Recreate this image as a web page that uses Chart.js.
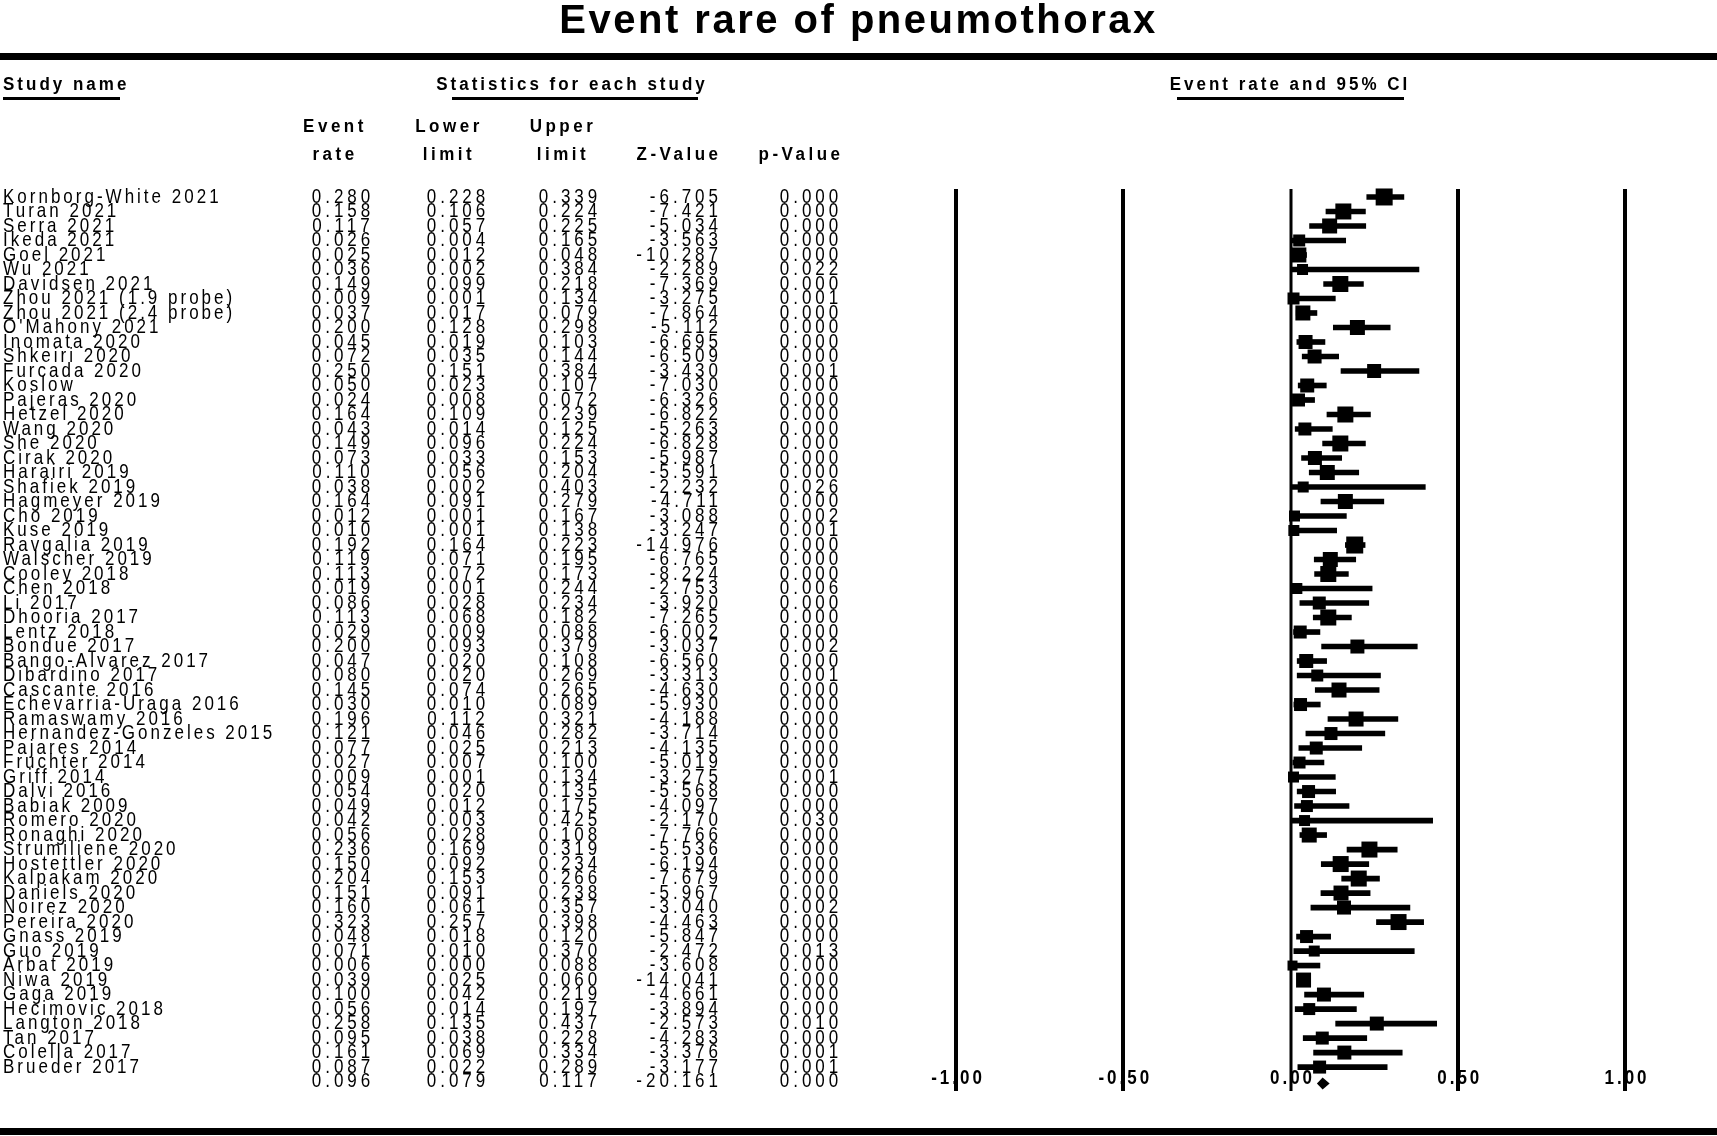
<!DOCTYPE html>
<html>
<head>
<meta charset="utf-8">
<script src="https://cdn.jsdelivr.net/npm/chart.js@4.4.0/dist/chart.umd.min.js"></script>
<style>
  html, body { margin: 0; padding: 0; background: #fff; }
  canvas { display: block; }
</style>
</head>
<body>
<canvas id="forest" width="1717" height="1136"></canvas>
<script>
const studies = [
    'Kornborg-White 2021', 'Turan 2021', 'Serra 2021', 'Ikeda 2021', 'Goel 2021', 'Wu 2021',
    'Davidsen 2021', 'Zhou 2021 (1.9 probe)', 'Zhou 2021 (2.4 probe)', "O'Mahony 2021", 'Inomata 2020',
    'Shkeiri 2020', 'Furcada 2020', 'Koslow', 'Pajeras 2020', 'Hetzel 2020', 'Wang 2020', 'She 2020',
    'Cirak 2020', 'Harairi 2019', 'Shafiek 2019', 'Hagmeyer 2019', 'Cho 2019', 'Kuse 2019',
    'Ravgalia 2019', 'Walscher 2019', 'Cooley 2018', 'Chen 2018', 'Li 2017', 'Dhooria 2017',
    'Lentz 2018', 'Bondue 2017', 'Bango-Alvarez 2017', 'Dibardino 2017', 'Cascante 2016',
    'Echevarria-Uraga 2016', 'Ramaswamy 2016', 'Hernandez-Gonzeles 2015', 'Pajares 2014',
    'Fruchter 2014', 'Griff 2014', 'Dalvi 2016', 'Babiak 2009', 'Romero 2020', 'Ronaghi 2020',
    'Strumiliene 2020', 'Hostettler 2020', 'Kalpakam 2020', 'Daniels 2020', 'Noirez 2020',
    'Pereira 2020', 'Gnass 2019', 'Guo 2019', 'Arbat 2019', 'Niwa 2019', 'Gaga 2019',
    'Hecimovic 2018', 'Langton 2018', 'Tan 2017', 'Colella 2017', 'Brueder 2017'
];
const eventRate = [
    0.280, 0.158, 0.117, 0.026, 0.025, 0.036, 0.149, 0.009, 0.037, 0.200, 0.045,
    0.072, 0.250, 0.050, 0.024, 0.164, 0.043, 0.149, 0.073, 0.110, 0.038, 0.164,
    0.012, 0.010, 0.192, 0.119, 0.113, 0.019, 0.086, 0.113, 0.029, 0.200, 0.047,
    0.080, 0.145, 0.030, 0.196, 0.121, 0.077, 0.027, 0.009, 0.054, 0.049, 0.042,
    0.056, 0.236, 0.150, 0.204, 0.151, 0.160, 0.323, 0.048, 0.071, 0.006, 0.039,
    0.100, 0.056, 0.258, 0.095, 0.161, 0.087
];
const lowerLimit = [
    0.228, 0.106, 0.057, 0.004, 0.012, 0.002, 0.099, 0.001, 0.017, 0.128, 0.019,
    0.035, 0.151, 0.023, 0.008, 0.109, 0.014, 0.096, 0.033, 0.056, 0.002, 0.091,
    0.001, 0.001, 0.164, 0.071, 0.072, 0.001, 0.028, 0.068, 0.009, 0.093, 0.020,
    0.020, 0.074, 0.010, 0.112, 0.046, 0.025, 0.007, 0.001, 0.020, 0.012, 0.003,
    0.028, 0.169, 0.092, 0.153, 0.091, 0.061, 0.257, 0.018, 0.010, 0.000, 0.025,
    0.042, 0.014, 0.135, 0.038, 0.069, 0.022
];
const upperLimit = [
    0.339, 0.224, 0.225, 0.165, 0.048, 0.384, 0.218, 0.134, 0.079, 0.298, 0.103,
    0.144, 0.384, 0.107, 0.072, 0.239, 0.125, 0.224, 0.153, 0.204, 0.403, 0.279,
    0.167, 0.138, 0.223, 0.195, 0.173, 0.244, 0.234, 0.182, 0.088, 0.379, 0.108,
    0.269, 0.265, 0.089, 0.321, 0.282, 0.213, 0.100, 0.134, 0.135, 0.175, 0.425,
    0.108, 0.319, 0.234, 0.266, 0.238, 0.357, 0.398, 0.120, 0.370, 0.088, 0.060,
    0.219, 0.197, 0.437, 0.228, 0.334, 0.289
];
const zValue = [
    -6.705, -7.421, -5.034, -3.563, -10.287, -2.289, -7.369, -3.275, -7.864, -5.112, -6.695,
    -6.509, -3.430, -7.030, -6.326, -6.822, -5.263, -6.828, -5.987, -5.591, -2.232, -4.711,
    -3.088, -3.247, -14.976, -6.765, -8.224, -2.753, -3.920, -7.265, -6.002, -3.037, -6.560,
    -3.313, -4.630, -5.930, -4.188, -3.714, -4.135, -5.019, -3.275, -5.568, -4.097, -2.170,
    -7.766, -5.536, -6.194, -7.679, -5.967, -3.040, -4.463, -5.847, -2.472, -3.608, -14.041,
    -4.661, -3.894, -2.573, -4.283, -3.376, -3.177
];
const pValue = [
    0.000, 0.000, 0.000, 0.000, 0.000, 0.022, 0.000, 0.001, 0.000, 0.000, 0.000,
    0.000, 0.001, 0.000, 0.000, 0.000, 0.000, 0.000, 0.000, 0.000, 0.026, 0.000,
    0.002, 0.001, 0.000, 0.000, 0.000, 0.006, 0.000, 0.000, 0.000, 0.002, 0.000,
    0.001, 0.000, 0.000, 0.000, 0.000, 0.000, 0.000, 0.001, 0.000, 0.000, 0.030,
    0.000, 0.000, 0.000, 0.000, 0.000, 0.002, 0.000, 0.000, 0.013, 0.000, 0.000,
    0.000, 0.000, 0.010, 0.000, 0.001, 0.001
];
const pooledRate = [0.096];
const pooledLower = [0.079];
const pooledUpper = [0.117];
const pooledZ = [-20.161];
const pooledP = [0.000];
const xTicks = [-1, -0.5, 0, 0.5, 1];

// box side in px (weight of each study)
const boxSide = [
    17, 16, 15, 12, 15, 11, 16, 12, 15, 15, 14,
    14, 14, 14, 13, 16, 13, 16, 14, 15, 11, 15,
    11, 11, 17, 15, 16, 11, 13, 16, 13, 14, 14,
    12, 15, 13, 15, 13, 13, 12, 11, 13, 12, 11,
    15, 16, 16, 16, 15, 14, 16, 13, 11, 10, 15,
    14, 12, 14, 13, 14, 13
];

const FONT = '"Liberation Sans", Arial, sans-serif';

function drawText(ctx, s, x, y, font, spacing, align) {
    ctx.font = font;
    ctx.letterSpacing = spacing + 'px';
    ctx.textAlign = align;
    ctx.fillText(s, x, y);
}

// same as drawText but stretched vertically, like the tall glyphs in the table
function drawTall(ctx, s, x, y, font, spacing, align, sy) {
    ctx.save();
    ctx.translate(0, y);
    ctx.scale(1, sy);
    drawText(ctx, s, x, 0, font, spacing, align);
    ctx.restore();
}

const forestPlugin = {
    id: 'forest',
    beforeDatasetsDraw(chart) {
        const ctx = chart.ctx;
        const xs = chart.scales.x;
        const area = chart.chartArea;
        ctx.save();
        ctx.strokeStyle = '#000';
        xTicks.forEach(t => {
            const x = Math.round(xs.getPixelForValue(t));
            ctx.lineWidth = t === 0 ? 3 : 4;
            ctx.beginPath();
            ctx.moveTo(x, area.top);
            ctx.lineTo(x, area.bottom);
            ctx.stroke();
        });
        ctx.restore();
    },
    afterDraw(chart) {
        const ctx = chart.ctx;
        const xs = chart.scales.x;
        const ys = chart.scales.y;
        const W = chart.width;
        ctx.save();
        ctx.fillStyle = '#000';
        ctx.strokeStyle = '#000';

        // title
        ctx.textBaseline = 'alphabetic';
        drawText(ctx, 'Event rare of pneumothorax', W / 2, 33, 'bold 40px ' + FONT, 2.5, 'center');
        ctx.textBaseline = 'middle';

        // thick rules
        ctx.fillRect(0, 53, W, 7);
        ctx.fillRect(0, 1128, W, 7);

        // header row
        const hf = 'bold 17px ' + FONT;
        drawTall(ctx, 'Study name', 3, 85, hf, 3, 'left', 1.1);
        drawTall(ctx, 'Statistics for each study', 572, 85, hf, 3, 'center', 1.1);
        drawTall(ctx, 'Event rate and 95% CI', 1290, 85, hf, 3, 'center', 1.1);
        ctx.fillRect(3, 97, 117, 3);
        ctx.fillRect(452, 97, 246, 3);
        ctx.fillRect(1177, 97, 227, 3);

        const cols = [
            ['Event', 'rate', 335],
            ['Lower', 'limit', 449],
            ['Upper', 'limit', 563],
            ['', 'Z-Value', 679],
            ['', 'p-Value', 801]
        ];
        cols.forEach(c => {
            drawTall(ctx, c[0], c[2], 127, hf, 3.5, 'center', 1.1);
            drawTall(ctx, c[1], c[2], 155, hf, 3.5, 'center', 1.1);
        });

        // study rows
        const nf = '17px ' + FONT;
        const sy = 1.22;
        const row = (name, er, lo, hi, z, p, i) => {
            const y = ys.getPixelForValue(i);
            if (name) drawTall(ctx, name, 3, y, nf, 3, 'left', sy);
            drawTall(ctx, er.toFixed(3), 343, y, nf, 4, 'center', sy);
            drawTall(ctx, lo.toFixed(3), 458, y, nf, 4, 'center', sy);
            drawTall(ctx, hi.toFixed(3), 570, y, nf, 4, 'center', sy);
            drawTall(ctx, z.toFixed(3), 722, y, nf, 4, 'right', sy);
            drawTall(ctx, p.toFixed(3), 811, y, nf, 4, 'center', sy);
        };
        studies.forEach((s, i) => row(s, eventRate[i], lowerLimit[i], upperLimit[i], zValue[i], pValue[i], i));
        const n = studies.length;
        row('', pooledRate[0], pooledLower[0], pooledUpper[0], pooledZ[0], pooledP[0], n);

        // pooled diamond
        const yd = ys.getPixelForValue(n) + 2;
        ctx.beginPath();
        ctx.moveTo(xs.getPixelForValue(pooledLower[0]), yd);
        ctx.lineTo(xs.getPixelForValue(pooledRate[0]), yd - 6);
        ctx.lineTo(xs.getPixelForValue(pooledUpper[0]), yd);
        ctx.lineTo(xs.getPixelForValue(pooledRate[0]), yd + 6);
        ctx.closePath();
        ctx.fill();

        // axis labels on the pooled row
        xTicks.forEach(t => {
            drawTall(ctx, t.toFixed(2), xs.getPixelForValue(t) + 2, ys.getPixelForValue(n) - 3,
                'bold 17px ' + FONT, 3, 'center', 1.2);
        });
        ctx.restore();
    }
};

function renderForest(ctxId) {
    const ctx = document.getElementById(ctxId).getContext('2d');

    new Chart(ctx, {
        type: 'bar',
        data: {
            datasets: [{
                type: 'bar',
                indexAxis: 'y',
                data: studies.map((s, i) => ({ x: [lowerLimit[i], upperLimit[i]], y: i })),
                backgroundColor: '#000',
                borderWidth: 0,
                borderSkipped: false,
                barThickness: 5,
                clip: false
            }, {
                type: 'scatter',
                data: studies.map((s, i) => ({ x: eventRate[i], y: i })),
                pointStyle: 'rect',
                pointRadius: boxSide.map(b => b * Math.SQRT1_2),
                backgroundColor: '#000',
                borderWidth: 0,
                clip: false
            }]
        },
        options: {
            responsive: false,
            animation: false,
            events: [],
            devicePixelRatio: 1,
            layout: {
                padding: { left: 956, right: 92, top: 189, bottom: 45 }
            },
            scales: {
                x: { type: 'linear', min: -1, max: 1, offset: false, display: false },
                y: { type: 'linear', min: -0.55, max: 61.65, offset: false, reverse: true, display: false }
            },
            plugins: {
                legend: { display: false },
                tooltip: { enabled: false }
            }
        },
        plugins: [forestPlugin]
    });
}

renderForest('forest');
</script>
</body>
</html>
